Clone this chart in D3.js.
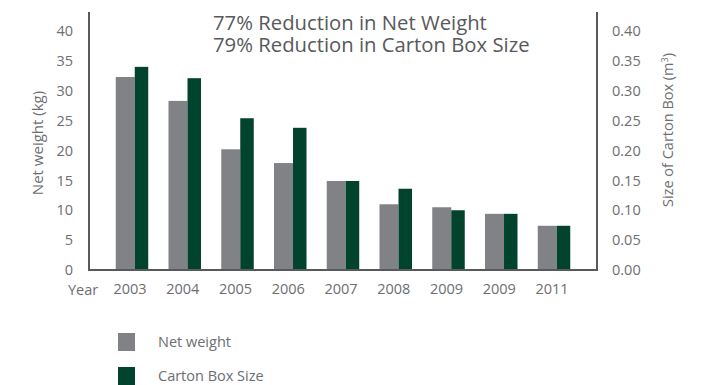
<!DOCTYPE html>
<html>
<head>
<meta charset="utf-8">
<script src="https://cdn.jsdelivr.net/npm/d3@7"></script>
<style>
  body { margin: 0; background: #fff; }
  svg text { font-family: "Open Sans", "Noto Sans", sans-serif; fill: #6d6e71; }
</style>
</head>
<body>
<div id="chart"></div>
<script>
let years = ['2003', '2004', '2005', '2006', '2007', '2008', '2009', '2009 ', '2011'];
let netWeight = [32.3, 28.3, 20.2, 17.9, 14.9, 11.0, 10.5, 9.4, 7.4];
let cartonSize = [0.340, 0.321, 0.254, 0.238, 0.149, 0.136, 0.100, 0.094, 0.074];
let leftTicks = [0, 5, 10, 15, 20, 25, 30, 35, 40];
let rightTicks = [0, 0.05, 0.10, 0.15, 0.20, 0.25, 0.30, 0.35, 0.40];
let titleLines = ['77% Reduction in Net Weight', '79% Reduction in Carton Box Size'];
let legendItems = ['Net weight', 'Carton Box Size'];

const width = 703, height = 385;
const margin = ({top: 12, right: 106, bottom: 115, left: 89});
const gray = '#818285', green = '#02432e', axisColor = '#58595b';

let svg = d3.select('#chart').append('svg')
  .attr('width', width)
  .attr('height', height);

let x = d3.scaleBand()
  .domain(years)
  .range([margin.left, width - margin.right])
  .paddingInner(0.384)
  .paddingOuter(0.507);

let y = d3.scaleLinear().domain([0, 40]).range([270, 31]);
let y2 = d3.scaleLinear().domain([0, 0.4]).range([270, 31]);

// bars: grey part takes ~58% of the group, green the rest
let grayW = x.bandwidth() * 0.585;

let groups = svg.selectAll('g.yeargroup')
  .data(years)
  .enter().append('g')
  .attr('class', 'yeargroup');

groups.append('rect')
  .attr('x', d => x(d))
  .attr('width', grayW)
  .attr('y', (d, i) => y(netWeight[i]))
  .attr('height', (d, i) => y(0) - y(netWeight[i]))
  .attr('fill', gray);

groups.append('rect')
  .attr('x', d => x(d) + grayW)
  .attr('width', x.bandwidth() - grayW)
  .attr('y', (d, i) => y2(cartonSize[i]))
  .attr('height', (d, i) => y2(0) - y2(cartonSize[i]))
  .attr('fill', green);

// axis lines
svg.append('path')
  .attr('d', `M${margin.left},${margin.top} V${y(0)} H${width - margin.right} V${margin.top}`)
  .attr('fill', 'none')
  .attr('stroke', axisColor)
  .attr('stroke-width', 2);

// left ticks
let yAxis = d3.axisLeft(y).tickValues(leftTicks).tickSize(0).tickPadding(16);
svg.append('g')
  .attr('transform', `translate(${margin.left},0)`)
  .call(yAxis)
  .call(g => g.select('.domain').remove())
  .selectAll('text')
  .style('font-size', '14.5px');

// right ticks
let yAxis2 = d3.axisRight(y2).tickValues(rightTicks).tickSize(0).tickPadding(15)
  .tickFormat(d3.format('.2f'));
svg.append('g')
  .attr('transform', `translate(${width - margin.right},0)`)
  .call(yAxis2)
  .call(g => g.select('.domain').remove())
  .selectAll('text')
  .style('font-size', '14.5px');

// x labels
let xAxis = d3.axisBottom(x).tickSize(0).tickPadding(14).tickFormat(d => d.trim());
svg.append('g')
  .attr('transform', `translate(-2,${y(0)})`)
  .call(xAxis)
  .call(g => g.select('.domain').remove())
  .selectAll('text')
  .style('font-size', '14.5px');

svg.append('text')
  .attr('x', 68).attr('y', 295)
  .style('font-size', '14.5px')
  .text('Year');

// axis titles
svg.append('text')
  .attr('text-anchor', 'middle')
  .attr('transform', 'translate(43,143) rotate(-90)')
  .style('font-size', '15px')
  .text('Net weight (kg)');

let rt = svg.append('text')
  .attr('text-anchor', 'middle')
  .attr('transform', 'translate(673,130) rotate(-90)')
  .style('font-size', '14.5px');
rt.append('tspan').text('Size of Carton Box (m');
rt.append('tspan').attr('dy', -5).style('font-size', '9px').text('3');
rt.append('tspan').attr('dy', 5).text(')');

// headline
svg.selectAll('text.headline')
  .data(titleLines)
  .enter().append('text')
  .attr('class', 'headline')
  .attr('x', 213)
  .attr('y', (d, i) => 30 + i * 21.5)
  .style('font-size', '20.3px')
  .style('fill', '#58595b')
  .text(d => d);

// legend
let legend = svg.selectAll('g.legend')
  .data(legendItems)
  .enter().append('g')
  .attr('class', 'legend')
  .attr('transform', (d, i) => `translate(118,${333 + i * 34})`);

legend.append('rect')
  .attr('width', 17).attr('height', 18)
  .attr('fill', (d, i) => i ? green : gray);

legend.append('text')
  .attr('x', 40).attr('y', 14)
  .style('font-size', '14.5px')
  .text(d => d);
</script>
</body>
</html>
